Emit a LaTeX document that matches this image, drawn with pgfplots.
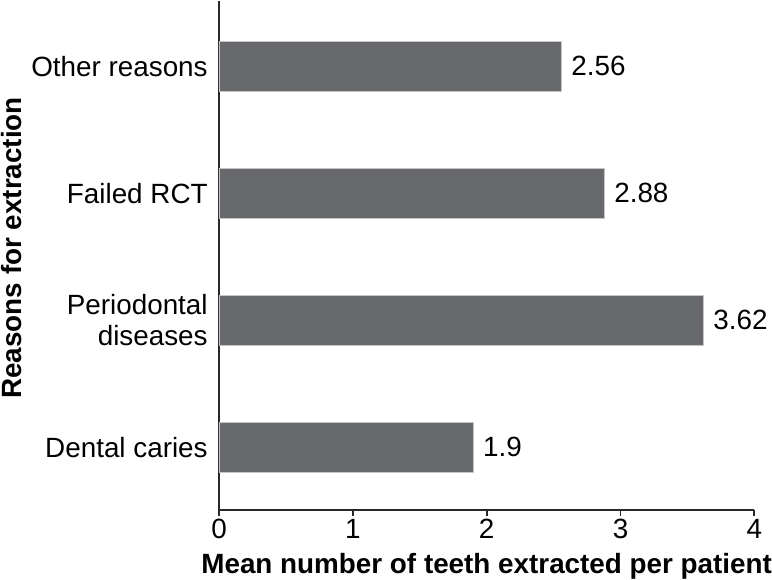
\documentclass[border=0pt]{standalone}
\usepackage{pgfplots}
\pgfplotsset{compat=1.18}
\usepackage{fontspec}
\setmainfont{Liberation Sans}
\definecolor{barcolor}{RGB}{104,105,108}
\definecolor{axcol}{RGB}{40,40,40}
\newcommand{\fs}{\fontsize{27.5}{30}\selectfont}
\begin{document}
\begin{tikzpicture}
\begin{axis}[
 scale only axis, width=529pt, height=503pt,
 xbar, bar width=49pt,
 xmin=0, xmax=4, ymin=-0.494, ymax=3.514,
 axis x line*=bottom, axis y line*=left,
 every outer x axis line/.append style={line width=1.8pt, axcol, -},
 every outer y axis line/.append style={line width=1.8pt, axcol, -},
 xtick={0,1,2,3,4}, ytick={0,1,2,3},
 yticklabels={Dental caries, {Periodontal\\diseases}, Failed RCT, Other reasons},
 yticklabel style={align=right, font=\fs, inner sep=0pt, xshift=-5pt},
 ytick style={draw=none},
 xtick style={line width=1.8pt, axcol},
 xtick align=outside, major tick length=6pt,
 xticklabel style={font=\fs, inner sep=0pt, yshift=-3pt},
 /pgf/number format/assume math mode=true,
 xlabel={\bfseries Mean number of teeth extracted per patient},
 ylabel={\bfseries Reasons for extraction},
 label style={font=\fs},
 xlabel style={at={(axis description cs:0.5,0)}, anchor=north, inner sep=0pt, yshift=-43pt},
 ylabel style={at={([xshift=-194pt,yshift=7.5pt]axis description cs:0,0.5)}, anchor=south, inner sep=1pt},
 nodes near coords,
 point meta=explicit symbolic,
 nodes near coords style={anchor=west, font=\fs, xshift=6pt},
]
\addplot[fill=barcolor, draw=gray!45, line width=0.8pt] coordinates {(1.9,0) [1.9] (3.62,1) [3.62] (2.88,2) [2.88] (2.56,3) [2.56]};
\end{axis}
\end{tikzpicture}
\end{document}
